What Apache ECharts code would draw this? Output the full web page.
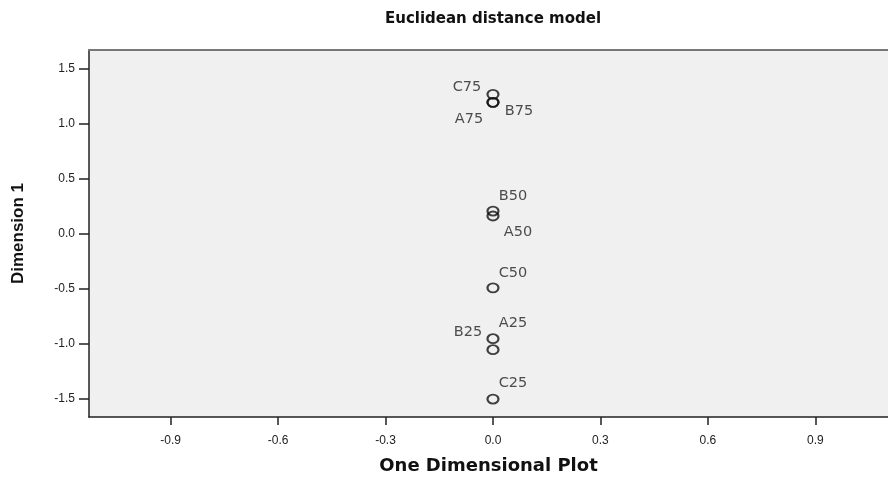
<!DOCTYPE html>
<html>
<head>
<meta charset="utf-8">
<script src="https://cdn.jsdelivr.net/npm/echarts@6/dist/echarts.min.js"></script>
<style>
html,body{margin:0;padding:0;background:#fff;}
#chart{width:888px;height:480px;}
</style>
</head>
<body>
<div id="chart"></div>
<script>
// ---- data ----
var pointNames = ['C75', 'A75', 'B75', 'B50', 'A50', 'C50', 'A25', 'B25', 'C25'];
var xValues    = [0, 0, 0, 0, 0, 0, 0, 0, 0];
var dim1Values = [1.265, 1.192, 1.192, 0.204, 0.159, -0.494, -0.956, -1.056, -1.505];
var xTicks = [-0.9, -0.6, -0.3, 0.0, 0.3, 0.6, 0.9];
var yTicks = [-1.5, -1.0, -0.5, 0.0, 0.5, 1.0, 1.5];

// ---- label placement (style) ----
var labelOffsets = {
  C75: [-26, -7], A75: [-24, 17], B75: [26, 9],
  B50: [20, -15], A50: [25, 16], C50: [20, -15],
  A25: [20, -15], B25: [-25, -17], C25: [20, -16]
};

var seriesData = pointNames.map(function (n, i) {
  return {
    name: n,
    value: [xValues[i], dim1Values[i]],
    label: { offset: labelOffsets[n] }
  };
});

var chart = echarts.init(document.getElementById('chart'), null, { renderer: 'canvas' });
var fmt = function (v) { return (Math.round(v * 10) / 10).toFixed(1); };
chart.setOption({
  animation: false,
  backgroundColor: '#ffffff',
  title: {
    text: 'Euclidean distance model',
    left: 488, top: 7, textAlign: 'center',
    textStyle: { fontFamily: 'DejaVu Sans', fontWeight: 'bold', fontSize: 15, color: '#111' }
  },
  grid: {
    left: 89, top: 50, right: 0, bottom: 63,
    show: true, backgroundColor: '#f0f0f0', borderWidth: 0
  },
  xAxis: [{
    type: 'value', min: -1.128, max: 1.103,
    name: 'One Dimensional Plot', nameLocation: 'middle', nameGap: 40,
    nameTextStyle: { fontFamily: 'DejaVu Sans', fontWeight: 'bold', fontSize: 18, color: '#111' },
    axisLine: { show: true, onZero: false, lineStyle: { color: '#222', width: 1.5 } },
    axisTick: { show: true, inside: false, length: 8, customValues: xTicks, lineStyle: { color: '#222', width: 1.5 } },
    axisLabel: { customValues: xTicks, formatter: fmt, margin: 18, fontFamily: 'Liberation Sans', fontSize: 12, color: '#222' },
    splitLine: { show: false }
  }, {
    type: 'value', position: 'top', min: -1.128, max: 1.103,
    axisLine: { show: true, onZero: false, lineStyle: { color: '#777', width: 2 } },
    axisTick: { show: false }, axisLabel: { show: false }, splitLine: { show: false }
  }],
  yAxis: {
    type: 'value', min: -1.668, max: 1.668,
    name: 'Dimension 1', nameLocation: 'middle', nameGap: 62, nameRotate: 90,
    nameTextStyle: { fontFamily: 'Liberation Sans', fontWeight: 'bold', fontSize: 17, color: '#111' },
    axisLine: { show: true, onZero: false, lineStyle: { color: '#222', width: 1.5 } },
    axisTick: { show: true, inside: false, length: 10, customValues: yTicks, lineStyle: { color: '#222', width: 1.5 } },
    axisLabel: { customValues: yTicks, formatter: fmt, margin: 14, fontFamily: 'Liberation Sans', fontSize: 12, color: '#222' },
    splitLine: { show: false }
  },
  series: [{
    type: 'scatter',
    xAxisIndex: 0,
    data: seriesData,
    symbol: 'circle',
    symbolSize: [11, 9],
    itemStyle: { color: 'rgba(0,0,0,0)', borderColor: '#111', borderWidth: 2 },
    label: {
      show: true, position: 'inside',
      formatter: function (p) { return p.name; },
      fontFamily: 'DejaVu Sans', fontSize: 14.5, color: '#222'
    },
    emphasis: { disabled: true }
  }]
});
</script>
</body>
</html>
